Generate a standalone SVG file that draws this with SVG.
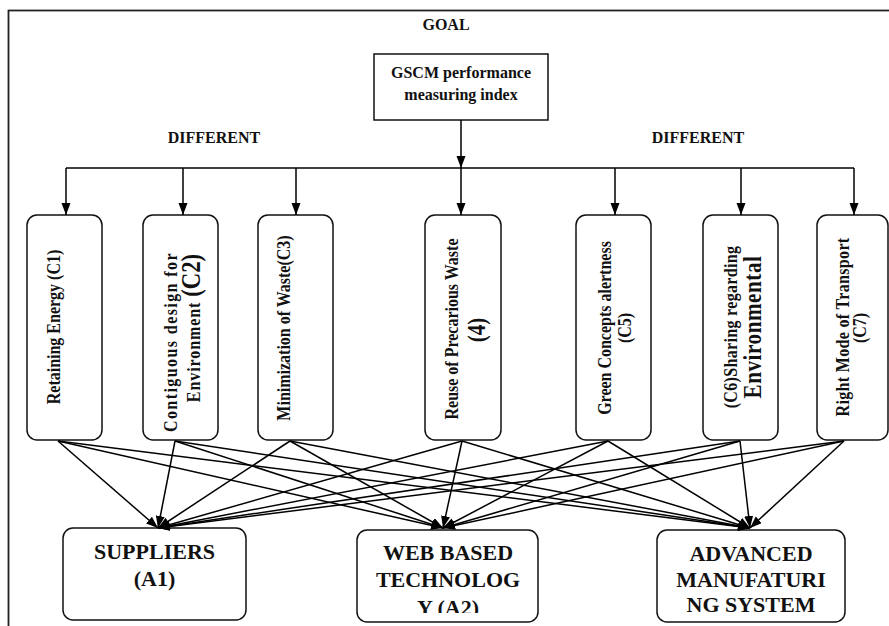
<svg xmlns="http://www.w3.org/2000/svg" width="889" height="626" viewBox="0 0 889 626">
<style>
.frame{fill:none;stroke:#222;stroke-width:1.8}
.box{fill:#fff;stroke:#111;stroke-width:1.5}
.t{font-family:"Liberation Serif","Times New Roman",serif;font-weight:bold;fill:#111;text-anchor:middle}
.s16{font-size:16px}
.s22{font-size:22px}
.v{font-size:19px}
.ln{fill:none;stroke:#000;stroke-width:1.5}
</style>
<defs>
<marker id="ah" markerUnits="userSpaceOnUse" markerWidth="12" markerHeight="10" refX="12" refY="4.5" orient="auto">
<path d="M0,0 L12,4.5 L0,9 z" fill="#000"/>
</marker>
<clipPath id="clipA2"><rect x="357" y="530" width="181" height="83"/></clipPath>
</defs>
<rect class="frame" x="8.5" y="10.5" width="920" height="700"/>
<text class="t s16" x="446" y="30">GOAL</text>
<text class="t s16" x="214" y="143">DIFFERENT</text>
<text class="t s16" x="698" y="143">DIFFERENT</text>

<g id="goal">
<rect class="box" x="374" y="54" width="174" height="66"/>
<text class="t s16" x="461" y="78">GSCM performance</text>
<text class="t s16" x="461" y="100">measuring index</text>
</g>

<g id="C1">
<rect class="box" x="27" y="215" width="75" height="225" rx="10"/>
<text class="t v" transform="translate(60,327) rotate(-90) scale(0.842,1)">Retaining Energy (C1)</text>
</g>
<g id="C2">
<rect class="box" x="143" y="215" width="75" height="225" rx="10"/>
<text class="t v" transform="translate(177,342) rotate(-90) scale(0.842,1)" letter-spacing="1.7">Contiguous design for</text>
<text class="t v" transform="translate(200,328) rotate(-90) scale(0.842,1)" letter-spacing="1.1">Environment <tspan font-size="27" letter-spacing="0">(C2)</tspan></text>
</g>
<g id="C3">
<rect class="box" x="258" y="215" width="75" height="225" rx="10"/>
<text class="t v" transform="translate(290,328) rotate(-90) scale(0.842,1)">Minimization of Waste(C3)</text>
</g>
<g id="C4">
<rect class="box" x="425" y="215" width="76" height="225" rx="10"/>
<text class="t v" transform="translate(458,329) rotate(-90) scale(0.842,1)">Reuse of Precarious Waste</text>
<text class="t" font-size="25" transform="translate(485,330) rotate(-90) scale(0.842,1)">(4)</text>
</g>
<g id="C5">
<rect class="box" x="576" y="215" width="75" height="225" rx="10"/>
<text class="t v" transform="translate(611,328) rotate(-90) scale(0.842,1)">Green Concepts alertness</text>
<text class="t v" transform="translate(631,328) rotate(-90) scale(0.842,1)">(C5)</text>
</g>
<g id="C6">
<rect class="box" x="703" y="215" width="75" height="225" rx="10"/>
<text class="t v" transform="translate(737,327) rotate(-90) scale(0.842,1)" letter-spacing="0.4">(C6)Sharing regarding</text>
<text class="t" font-size="25" letter-spacing="0.7" transform="translate(761,327) rotate(-90) scale(0.842,1)">Environmental</text>
</g>
<g id="C7">
<rect class="box" x="817" y="215" width="71" height="225" rx="10"/>
<text class="t v" transform="translate(849,327) rotate(-90) scale(0.842,1)" letter-spacing="0.4">Right Mode of Transport</text>
<text class="t v" transform="translate(866,328) rotate(-90) scale(0.842,1)">(C7)</text>
</g>

<g id="A1">
<rect class="box" x="63" y="528" width="183" height="92" rx="10"/>
<text class="t s22" x="154.5" y="559">SUPPLIERS</text>
<text class="t s22" x="154.5" y="586">(A1)</text>
</g>
<g id="A2">
<rect class="box" x="357" y="530" width="181" height="92" rx="10"/>
<g clip-path="url(#clipA2)">
<text class="t s22" x="448" y="560">WEB BASED</text>
<text class="t s22" x="448" y="587">TECHNOLOG</text>
<text class="t s22" x="448" y="615">Y (A2)</text>
</g>
</g>
<g id="A3">
<rect class="box" x="657" y="530" width="188" height="92" rx="10"/>
<text class="t s22" x="751" y="561">ADVANCED</text>
<text class="t s22" x="751" y="587">MANUFATURI</text>
<text class="t s22" x="751" y="612">NG SYSTEM</text>
</g>

<g id="connectors" class="ln">
<path d="M461,120 V168" marker-end="url(#ah)"/>
<path d="M66,168 H854"/>
<path d="M66,168 V215" marker-end="url(#ah)"/>
<path d="M183,168 V215" marker-end="url(#ah)"/>
<path d="M296,168 V215" marker-end="url(#ah)"/>
<path d="M461,168 V215" marker-end="url(#ah)"/>
<path d="M615,168 V215" marker-end="url(#ah)"/>
<path d="M741,168 V215" marker-end="url(#ah)"/>
<path d="M854,168 V215" marker-end="url(#ah)"/>

<path d="M58,441 L158,528" marker-end="url(#ah)"/>
<path d="M58,441 L443,528" marker-end="url(#ah)"/>
<path d="M58,441 L750,528" marker-end="url(#ah)"/>
<path d="M175,441 L158,528" marker-end="url(#ah)"/>
<path d="M175,441 L443,528" marker-end="url(#ah)"/>
<path d="M175,441 L750,528" marker-end="url(#ah)"/>
<path d="M290,441 L158,528" marker-end="url(#ah)"/>
<path d="M290,441 L443,528" marker-end="url(#ah)"/>
<path d="M290,441 L750,528" marker-end="url(#ah)"/>
<path d="M462,441 L158,528" marker-end="url(#ah)"/>
<path d="M462,441 L443,528" marker-end="url(#ah)"/>
<path d="M462,441 L750,528" marker-end="url(#ah)"/>
<path d="M608,441 L158,528" marker-end="url(#ah)"/>
<path d="M608,441 L443,528" marker-end="url(#ah)"/>
<path d="M608,441 L750,528" marker-end="url(#ah)"/>
<path d="M740,441 L158,528" marker-end="url(#ah)"/>
<path d="M740,441 L443,528" marker-end="url(#ah)"/>
<path d="M740,441 L750,528" marker-end="url(#ah)"/>
<path d="M844,441 L158,528" marker-end="url(#ah)"/>
<path d="M844,441 L443,528" marker-end="url(#ah)"/>
<path d="M844,441 L750,528" marker-end="url(#ah)"/>
</g>
</svg>
